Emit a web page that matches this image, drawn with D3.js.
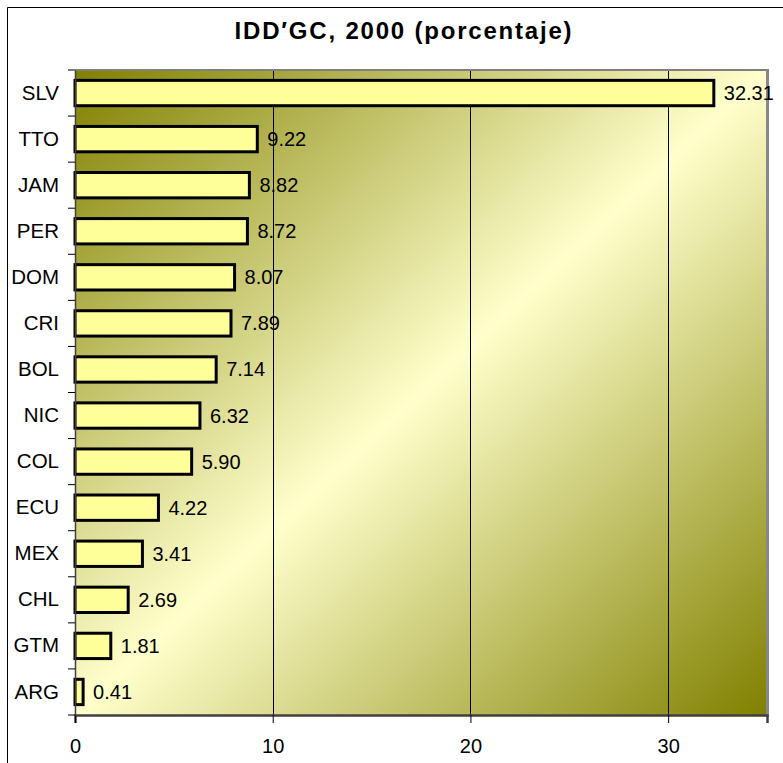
<!DOCTYPE html>
<html>
<head>
<meta charset="utf-8">
<script src="https://cdn.jsdelivr.net/npm/d3@7"></script>
<style>
  html, body { margin: 0; padding: 0; background: #fff; }
  svg { display: block; font-family: Arial, "Liberation Sans", sans-serif; }
</style>
</head>
<body>
<svg id="chart" width="783" height="763"></svg>
<script>
const title = "IDD\u2032GC, 2000 (porcentaje)";
const categories = ["SLV","TTO","JAM","PER","DOM","CRI","BOL","NIC","COL","ECU","MEX","CHL","GTM","ARG"];
const values = [32.31, 9.22, 8.82, 8.72, 8.07, 7.89, 7.14, 6.32, 5.90, 4.22, 3.41, 2.69, 1.81, 0.41];
const xTicks = [0, 10, 20, 30];
const xMax = 35;

const svg = d3.select("#chart");
const plot = { left: 75, top: 70, right: 767, bottom: 715 };

// outer frame (top and left edges visible)
svg.append("line").attr("x1", 7.5).attr("x2", 783).attr("y1", 7.5).attr("y2", 7.5)
  .attr("stroke", "#000").attr("stroke-width", 1);
svg.append("line").attr("x1", 7.5).attr("x2", 7.5).attr("y1", 7.5).attr("y2", 763)
  .attr("stroke", "#000").attr("stroke-width", 1);

// gradient
const defs = svg.append("defs");
const grad = defs.append("linearGradient").attr("id", "bg")
  .attr("x1", 0).attr("y1", 0).attr("x2", 1).attr("y2", 1);
grad.append("stop").attr("offset", 0).attr("stop-color", "#808000");
grad.append("stop").attr("offset", 0.5).attr("stop-color", "#FFFFCC");
grad.append("stop").attr("offset", 1).attr("stop-color", "#808000");

const x = d3.scaleLinear().domain([0, xMax]).range([plot.left, plot.right]);
const y = d3.scaleBand().domain(categories).range([plot.top, plot.bottom])
  .paddingInner(0.45).paddingOuter(0.225);

svg.append("rect")
  .attr("x", plot.left).attr("y", plot.top)
  .attr("width", plot.right - plot.left).attr("height", plot.bottom - plot.top)
  .attr("fill", "url(#bg)");

// gridlines
svg.append("g").selectAll("line").data(xTicks.filter(d => d > 0)).join("line")
  .attr("x1", d => Math.round(x(d)) + 0.5).attr("x2", d => Math.round(x(d)) + 0.5)
  .attr("y1", plot.top).attr("y2", plot.bottom)
  .attr("stroke", "#000").attr("stroke-width", 1);

// plot border
svg.append("line").attr("x1", plot.left).attr("x2", plot.right + 2).attr("y1", plot.top).attr("y2", plot.top)
  .attr("stroke", "#808080").attr("stroke-width", 2);
svg.append("line").attr("x1", plot.right + 0.5).attr("x2", plot.right + 0.5).attr("y1", plot.top - 1).attr("y2", plot.bottom + 2)
  .attr("stroke", "#888888").attr("stroke-width", 3);

// bars
svg.append("g").selectAll("rect").data(categories).join("rect")
  .attr("x", x(0))
  .attr("y", d => y(d))
  .attr("width", (d, i) => x(values[i]) - x(0))
  .attr("height", y.bandwidth())
  .attr("fill", "#FFFF99")
  .attr("stroke", "#000")
  .attr("stroke-width", 3);

// x axis
const xAxis = d3.axisBottom(x).tickValues(xTicks).tickSize(8).tickFormat(d3.format("d"));
const gx = svg.append("g").attr("transform", `translate(0,${plot.bottom})`).call(xAxis);
gx.select(".domain").attr("stroke", "#404040").attr("stroke-width", 2.5);
gx.selectAll(".tick line").attr("stroke", "#000");
gx.selectAll(".tick text").attr("font-size", 20).attr("font-family", "Arial, 'Liberation Sans', sans-serif")
  .attr("fill", "#000").attr("dy", null).attr("y", 38);

// y axis
const gy = svg.append("g").attr("transform", `translate(${plot.left},0)`)
  .call(d3.axisLeft(y).tickSize(0).tickPadding(16));
gy.select(".domain").attr("stroke", "#404040").attr("stroke-width", 1.5);
gy.selectAll(".tick text").attr("font-size", 20.5).attr("font-family", "Arial, 'Liberation Sans', sans-serif")
  .attr("fill", "#000");
// category boundary ticks
const bounds = d3.range(categories.length + 1).map(i => plot.top + i * (plot.bottom - plot.top) / categories.length);
gy.append("g").selectAll("line").data(bounds).join("line")
  .attr("x1", -7).attr("x2", 0).attr("y1", d => d).attr("y2", d => d)
  .attr("stroke", "#000").attr("stroke-width", 1);

// value labels
svg.append("g").selectAll("text").data(categories).join("text")
  .attr("x", (d, i) => x(values[i]) + 10)
  .attr("y", d => y(d) + y.bandwidth() / 2)
  .attr("dy", "0.35em")
  .attr("font-size", 20)
  .attr("fill", "#000")
  .text((d, i) => values[i].toFixed(2));

// title
svg.append("text").attr("x", 404).attr("y", 39)
  .attr("text-anchor", "middle").attr("font-size", 24).attr("font-weight", "bold")
  .attr("letter-spacing", "1.8px")
  .text(title);
</script>
</body>
</html>
